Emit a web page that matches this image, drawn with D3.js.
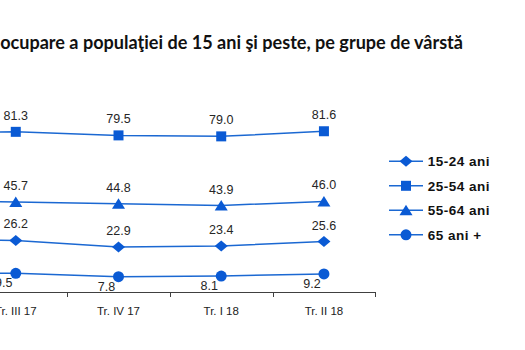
<!DOCTYPE html>
<html>
<head>
<meta charset="utf-8">
<script src="https://cdn.jsdelivr.net/npm/d3@7"></script>
<style>
  html, body { margin: 0; padding: 0; background: #ffffff; }
  svg { display: block; }
</style>
</head>
<body>
<svg id="chart" width="525" height="350"></svg>
<script>
// Quarterly employment rate by age group (%)
const categories = ["Tr. II 17", "Tr. III 17", "Tr. IV 17", "Tr. I 18", "Tr. II 18"];
const seriesNames = ["15-24 ani", "25-54 ani", "55-64 ani", "65 ani +"];
const age15to24 = [26.6, 26.2, 22.9, 23.4, 25.6];
const age25to54 = [81.1, 81.3, 79.5, 79.0, 81.6];
const age55to64 = [46.3, 45.7, 44.8, 43.9, 46.0];
const age65plus = [9.4, 9.5, 7.8, 8.1, 9.2];

const titleLead = "Rata de ";
const titleRest = "ocupare a populaţiei de 15 ani şi peste, pe grupe de vârstă";

const series = [
  { name: seriesNames[0], values: age15to24, symbol: "diamond", labelBelow: false },
  { name: seriesNames[1], values: age25to54, symbol: "square", labelBelow: false },
  { name: seriesNames[2], values: age55to64, symbol: "triangle", labelBelow: false },
  { name: seriesNames[3], values: age65plus, symbol: "circle", labelBelow: true }
];

const lineColor = "#1b68d2";
const markerColor = "#0a5ad4";
const svg = d3.select("#chart");

// Scales: category bands (the plot runs past the left edge of the frame)
const x = d3.scaleBand().domain(categories).range([-138.3, 375.3]).padding(0);
const cx = c => x(c) + x.bandwidth() / 2;
const y = d3.scaleLinear().domain([0, 100]).range([292, 95]);

// Only categories whose centre falls inside the frame get text labels
const labelled = i => cx(categories[i]) >= 0;

// Marker shapes
function markerPath(sym) {
  switch (sym) {
    case "diamond": return "M0,-5.5L6.5,0L0,5.5L-6.5,0Z";
    case "square": return "M-5,-5H5V5H-5Z";
    case "triangle": return "M0,-5.5L6.5,5L-6.5,5Z";
    default: return d3.symbol().type(d3.symbolCircle).size(Math.PI * 5.5 * 5.5)();
  }
}

// Title, right-aligned; font size fitted so the words span the title width
const titleFont = "Lato, 'Noto Sans', sans-serif";
const probe = svg.append("text").attr("font-family", titleFont).attr("font-weight", 700)
  .attr("font-size", 16).text(titleRest);
const restW = probe.node().getComputedTextLength();
probe.remove();
const titleSize = 16 * 463 / restW;
svg.append("text")
  .attr("x", 463).attr("y", 49)
  .attr("text-anchor", "end")
  .attr("font-family", titleFont).attr("font-weight", 700)
  .attr("font-size", titleSize.toFixed(2))
  .attr("fill", "#111")
  .text(titleLead + titleRest);

// X axis line and ticks between categories
const axisY = y(0);
const xEnd = x.range()[1];
svg.append("line")
  .attr("x1", x.range()[0]).attr("x2", xEnd)
  .attr("y1", axisY + 0.5).attr("y2", axisY + 0.5)
  .attr("stroke", "#404040").attr("stroke-width", 1);
const tickXs = categories.map(c => x(c)).concat([xEnd]);
svg.selectAll("line.tick").data(tickXs).join("line")
  .attr("class", "tick")
  .attr("x1", d => Math.round(d) + 0.5).attr("x2", d => Math.round(d) + 0.5)
  .attr("y1", axisY).attr("y2", axisY + 5)
  .attr("stroke", "#404040").attr("stroke-width", 1);

svg.selectAll("text.xlab").data(categories.filter((c, i) => labelled(i))).join("text")
  .attr("class", "xlab")
  .attr("x", d => cx(d)).attr("y", 315)
  .attr("text-anchor", "middle")
  .attr("font-family", "'Liberation Sans', Arial, sans-serif")
  .attr("font-size", 11.5)
  .attr("fill", "#222")
  .text(d => d);

// Lines, markers and value labels
const line = d3.line().x((d, i) => cx(categories[i])).y(d => y(d));
series.forEach(s => {
  const g = svg.append("g");
  g.append("path")
    .attr("d", line(s.values))
    .attr("fill", "none")
    .attr("stroke", lineColor)
    .attr("stroke-width", 1.5);
  g.selectAll("path.mk").data(s.values).join("path")
    .attr("class", "mk")
    .attr("d", markerPath(s.symbol))
    .attr("transform", (d, i) => `translate(${cx(categories[i])},${y(d)})`)
    .attr("fill", markerColor);
  const pts = s.values.map((v, i) => ({ v, i })).filter(p => labelled(p.i));
  g.selectAll("text").data(pts).join("text")
    .attr("x", p => cx(categories[p.i]) + (s.labelBelow ? -12 : 0))
    .attr("y", p => s.labelBelow ? y(p.v) + 14 : y(p.v) - 12)
    .attr("text-anchor", "middle")
    .attr("font-family", "'Liberation Sans', Arial, sans-serif")
    .attr("font-size", 12.5)
    .attr("fill", "#262626")
    .text(p => p.v.toFixed(1));
});

// Legend
const legend = svg.append("g").attr("transform", "translate(389,161.3)");
series.forEach((s, i) => {
  const row = legend.append("g").attr("transform", `translate(0,${i * 24.5})`);
  row.append("line").attr("x1", 0).attr("x2", 34).attr("y1", 0).attr("y2", 0)
    .attr("stroke", lineColor).attr("stroke-width", 1.5);
  row.append("path").attr("d", markerPath(s.symbol))
    .attr("transform", "translate(17,0)").attr("fill", markerColor);
  row.append("text").attr("x", 38.7).attr("y", 4.8)
    .attr("font-family", "'Liberation Sans', Arial, sans-serif")
    .attr("font-weight", 700).attr("font-size", 13.5)
    .attr("letter-spacing", 0.5)
    .attr("fill", "#111")
    .text(s.name);
});
</script>
</body>
</html>
